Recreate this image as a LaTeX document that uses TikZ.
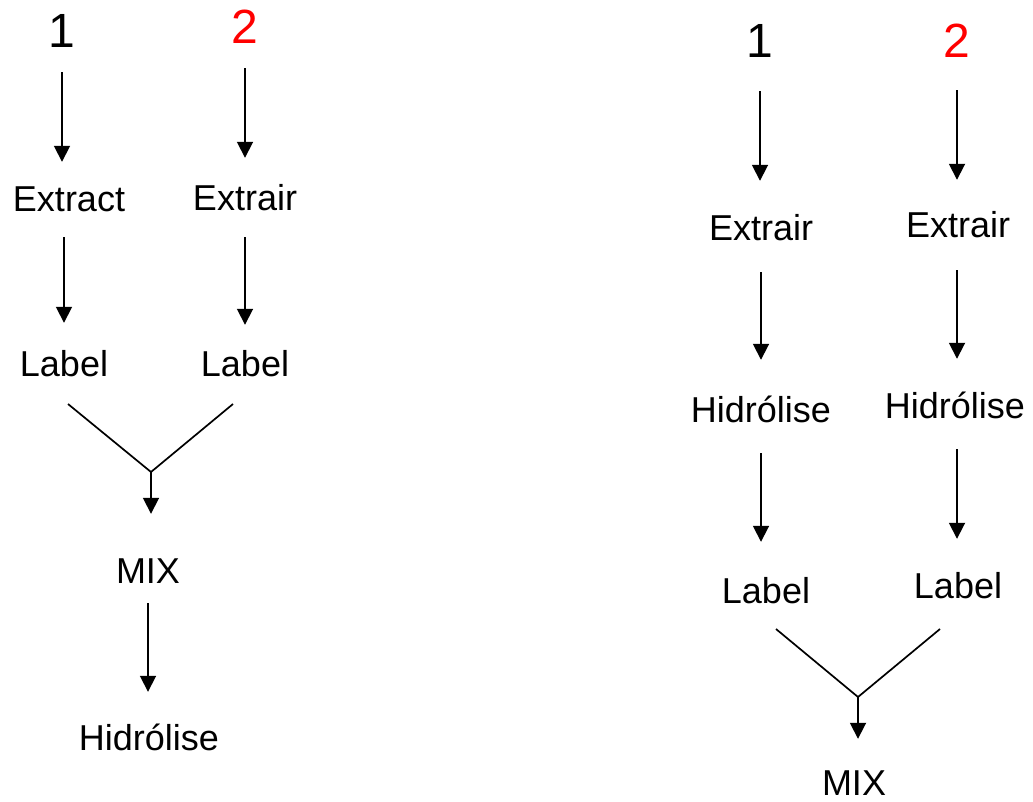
\documentclass[tikz,border=0pt]{standalone}
\usepackage{fontspec}
\setmainfont{Liberation Sans}
\usetikzlibrary{arrows.meta}

\begin{document}
\begin{tikzpicture}[x=1pt,y=-1pt,line cap=butt]
  \tikzstyle{word}=[inner sep=0,anchor=base,text height=26pt,text depth=0pt,font=\fontsize{36}{40}\selectfont];
  \tikzstyle{num}=[inner sep=0,anchor=base,text height=35pt,text depth=0pt,font=\fontsize{48}{52}\selectfont];
  \tikzstyle{flow}=[line width=1.8pt,-{Triangle[width=16pt,length=16pt]}];
  \tikzstyle{vee}=[line width=1.7pt];

  \useasboundingbox (0,0) rectangle (1033,802);

  % left chain
  \node[num] (one1) at (62,48) {1};
  \node[num,text=red] (two1) at (245,44) {2};
  \node[word] (ext1) at (69,212) {Extract};
  \node[word] (ext2) at (245,211) {Extrair};
  \node[word] (lab1) at (64,376) {Label};
  \node[word] (lab2) at (245,376) {Label};
  \node[word] (mix1) at (148,583) {MIX};
  \node[word] (hyd1) at (149,750) {Hidrólise};

  \draw[flow,shorten <=24pt,shorten >=24pt] (one1.south) -- (one1.south |- ext1.north);
  \draw[flow,shorten <=24pt,shorten >=27pt] (two1.south) -- (two1.south |- ext2.north);
  \draw[flow,shorten <=25pt,shorten >=27pt] (lab1 |- ext1.south) -- (lab1.north);
  \draw[flow,shorten <=26pt,shorten >=25pt] (ext2.south) -- (ext2.south |- lab2.north);

  % merge
  \coordinate (vl1) at (68,404);
  \coordinate (vj1) at (151,472);
  \coordinate (vr1) at (233,404);
  \draw[vee] (vl1) -- (vj1) -- (vr1);
  \draw[flow,shorten >=43pt] (vj1) -- (vj1 |- mix1.north);
  \draw[flow,shorten <=20pt,shorten >=32pt] (mix1.south) -- (mix1.south |- hyd1.north);

  % right chain
  \node[num] (one2) at (760,58) {1};
  \node[num,text=red] (two2) at (957,58) {2};
  \node[word] (ext3) at (761,241) {Extrair};
  \node[word] (ext4) at (958,238) {Extrair};
  \node[word] (hyd3) at (761,422) {Hidrólise};
  \node[word] (hyd4) at (955,418) {Hidrólise};
  \node[word] (lab3) at (766,603) {Label};
  \node[word] (lab4) at (958,598) {Label};
  \node[word] (mix2) at (854,795) {MIX};

  \draw[flow,shorten <=33pt,shorten >=34pt] (one2.south) -- (one2.south |- ext3.north);
  \draw[flow,shorten <=32pt,shorten >=32pt] (two2.south) -- (two2.south |- ext4.north);
  \draw[flow,shorten <=31pt,shorten >=36pt] (ext3.south) -- (ext3.south |- hyd3.north);
  \draw[flow,shorten <=32pt,shorten >=33pt] (two2 |- ext4.south) -- (two2 |- hyd4.north);
  \draw[flow,shorten <=31pt,shorten >=35pt] (hyd3.south) -- (hyd3.south |- lab3.north);
  \draw[flow,shorten <=31pt,shorten >=33pt] (two2 |- hyd4.south) -- (two2 |- lab4.north);

  % merge
  \coordinate (vl2) at (776,629);
  \coordinate (vj2) at (858,697);
  \coordinate (vr2) at (940,629);
  \draw[vee] (vl2) -- (vj2) -- (vr2);
  \draw[flow,shorten >=30pt] (vj2) -- (vj2 |- mix2.north);
\end{tikzpicture}
\end{document}
